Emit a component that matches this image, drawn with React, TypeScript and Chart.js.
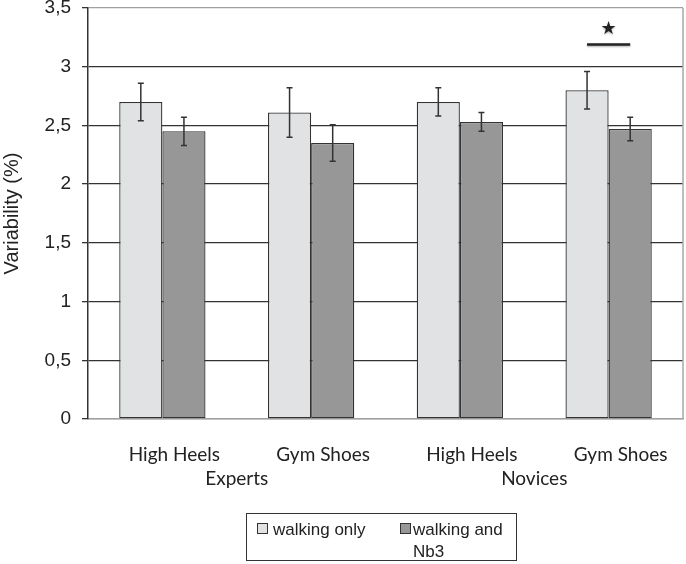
import React, { useRef, useEffect } from 'react';
import { Chart, registerables, Plugin } from 'chart.js';

Chart.register(...registerables);

const categories = ['High Heels', 'Gym Shoes', 'High Heels', 'Gym Shoes'];
const groups = ['Experts', 'Novices'];
const walkingOnly = [2.7, 2.61, 2.7, 2.8];
const walkingOnlyErr = [0.16, 0.21, 0.12, 0.16];
const walkingNb3 = [2.45, 2.35, 2.53, 2.47];
const walkingNb3Err = [0.12, 0.155, 0.08, 0.1];
const yTicks = [0, 0.5, 1, 1.5, 2, 2.5, 3, 3.5];
// significance marker over the last pair
const sigIndex = 3;
const sigLineValue = 3.19;
const sigStarValue = 3.32;

const errors = [walkingOnlyErr, walkingNb3Err];

const errorBars: Plugin<'bar'> = {
  id: 'errorBars',
  afterDatasetsDraw(chart) {
    const { ctx } = chart;
    const y = chart.scales.y;
    ctx.save();
    ctx.strokeStyle = '#333';
    ctx.lineWidth = 1.5;
    chart.data.datasets.forEach((ds, i) => {
      const meta = chart.getDatasetMeta(i);
      meta.data.forEach((bar: any, j) => {
        const v = ds.data[j] as number;
        const e = errors[i][j];
        const top = y.getPixelForValue(v + e);
        const bot = y.getPixelForValue(v - e);
        ctx.beginPath();
        ctx.moveTo(bar.x, top);
        ctx.lineTo(bar.x, bot);
        ctx.moveTo(bar.x - 3, top);
        ctx.lineTo(bar.x + 3, top);
        ctx.moveTo(bar.x - 3, bot);
        ctx.lineTo(bar.x + 3, bot);
        ctx.stroke();
      });
    });
    ctx.restore();
  },
};

const extras: Plugin<'bar'> = {
  id: 'extras',
  afterDraw(chart) {
    const { ctx, chartArea } = chart;
    const x = chart.scales.x;
    const y = chart.scales.y;
    ctx.save();
    // right frame line
    ctx.strokeStyle = '#a8a8a8';
    ctx.lineWidth = 1.5;
    ctx.beginPath();
    ctx.moveTo(chartArea.right, chartArea.top);
    ctx.lineTo(chartArea.right, chartArea.bottom);
    ctx.stroke();

    // group labels
    ctx.fillStyle = '#222';
    ctx.font = '19px Lato';
    ctx.textAlign = 'center';
    ctx.textBaseline = 'middle';
    groups.forEach((g, i) => {
      const cx = (x.getPixelForValue(i * 2) + x.getPixelForValue(i * 2 + 1)) / 2;
      ctx.fillText(g, cx, chartArea.bottom + 60);
    });

    // significance line and star
    const a = chart.getDatasetMeta(0).data[sigIndex] as any;
    const b = chart.getDatasetMeta(1).data[sigIndex] as any;
    const ly = y.getPixelForValue(sigLineValue);
    ctx.shadowColor = 'rgba(0,0,0,0.35)';
    ctx.shadowBlur = 2;
    ctx.shadowOffsetY = 1;
    ctx.strokeStyle = '#222';
    ctx.lineWidth = 2.5;
    ctx.beginPath();
    ctx.moveTo(a.x, ly);
    ctx.lineTo(b.x, ly);
    ctx.stroke();
    ctx.font = '18px "DejaVu Sans"';
    ctx.fillText('★', (a.x + b.x) / 2, y.getPixelForValue(sigStarValue));
    ctx.restore();
  },
};

const App: React.FC = () => {
  const canvasRef = useRef<HTMLCanvasElement | null>(null);

  useEffect(() => {
    if (!canvasRef.current) return;
    const chart = new Chart(canvasRef.current, {
      type: 'bar',
      data: {
        labels: categories,
        datasets: [
          {
            label: 'walking only',
            data: walkingOnly,
            backgroundColor: '#e1e2e4',
            borderColor: '#333',
            borderWidth: 1.3,
            borderSkipped: false,
          },
          {
            label: 'walking and Nb3',
            data: walkingNb3,
            backgroundColor: '#979797',
            borderColor: '#333',
            borderWidth: 1.3,
            borderSkipped: false,
          },
        ],
      },
      options: {
        responsive: false,
        animation: false,
        devicePixelRatio: 1,
        layout: { padding: { top: 0, right: 3, left: 0, bottom: 0 } },
        datasets: { bar: { categoryPercentage: 0.58, barPercentage: 1 } },
        scales: {
          x: {
            grid: { display: false, drawTicks: false },
            border: { display: true, color: '#a0a0a0', width: 1.5 },
            ticks: {
              color: '#222',
              font: { family: 'Lato', size: 19 },
              padding: 24,
              labelOffset: 12,
              maxRotation: 0,
            },
            afterFit: (s: any) => {
              s.height = 145;
            },
          },
          y: {
            min: 0,
            max: 3.5,
            afterBuildTicks: (s: any) => {
              s.ticks = yTicks.map((v) => ({ value: v }));
            },
            grid: {
              color: (c: any) => (c.tick && (c.tick.value === 3.5 || c.tick.value === 0) ? '#a0a0a0' : '#333'),
              lineWidth: 1.3,
              tickColor: '#333',
              tickLength: 6,
            },
            border: { display: true, color: '#333', width: 1.5 },
            ticks: {
              color: '#222',
              font: { family: 'Liberation Sans', size: 19 },
              padding: 11,
              callback: (v: any) => String(v).replace('.', ','),
            },
            title: {
              display: true,
              text: 'Variability (%)',
              color: '#222',
              font: { family: 'Liberation Sans', size: 20 },
              padding: 0,
            },
            afterFit: (s: any) => {
              s.width = 88;
              s.paddingTop = 8;
            },
          },
        },
        plugins: {
          legend: { display: false },
          tooltip: { enabled: false },
        },
      },
      plugins: [errorBars, extras],
    });
    return () => {
      chart.destroy();
    };
  }, []);

  const swatch = (bg: string): React.CSSProperties => ({
    position: 'absolute',
    width: 9,
    height: 9,
    border: '1px solid #333',
    background: bg,
  });

  return (
    <div style={{ position: 'absolute', left: 0, top: 0, width: 686, height: 564, background: '#fff' }}>
      <canvas ref={canvasRef} width={686} height={564} style={{ display: 'block' }} />
      <div
        style={{
          position: 'absolute',
          left: 246,
          top: 513,
          width: 269,
          height: 46,
          border: '1.5px solid #333',
          fontFamily: 'Liberation Sans',
          fontSize: 17,
          color: '#222',
          lineHeight: '22px',
        }}
      >
        <div style={{ ...swatch('#e1e2e4'), left: 10, top: 9 }} />
        <div style={{ position: 'absolute', left: 26, top: 5 }}>walking only</div>
        <div style={{ ...swatch('#979797'), left: 153, top: 9 }} />
        <div style={{ position: 'absolute', left: 166, top: 5, width: 102 }}>walking and Nb3</div>
      </div>
    </div>
  );
};

export default App;
